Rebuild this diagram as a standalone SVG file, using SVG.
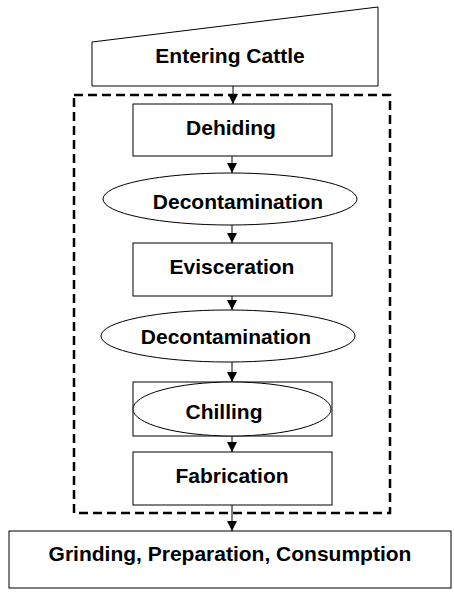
<svg xmlns="http://www.w3.org/2000/svg" width="454" height="592" viewBox="0 0 454 592">
<defs>
<style>
.s{fill:#fff;stroke:#000;stroke-width:1}
.t{font-family:"Liberation Sans",Arial,sans-serif;font-weight:bold;font-size:21px;fill:#000;text-anchor:middle}
.c{stroke:#000;stroke-width:1;fill:none}
</style>
<marker id="ah" markerWidth="10" markerHeight="10" refX="10" refY="5" orient="auto" markerUnits="userSpaceOnUse">
<path d="M0,0 L10,5 L0,10 Z" fill="#000"/>
</marker>
</defs>
<rect x="0" y="0" width="454" height="592" fill="#fff"/>
<g id="boundary">
<rect x="74" y="95" width="316" height="418" fill="none" stroke="#000" stroke-width="2.5" stroke-dasharray="9,5"/>
</g>
<g id="entering">
<path class="s" d="M92,42 L378,7 L378,86 L92,86 Z"/>
<text class="t" x="230" y="63">Entering Cattle</text>
</g>
<g id="dehiding">
<rect class="s" x="133" y="104" width="199" height="52"/>
<text class="t" x="231" y="135">Dehiding</text>
</g>
<g id="decon1">
<ellipse class="s" cx="230" cy="199" rx="127" ry="26"/>
<text class="t" x="238" y="209">Decontamination</text>
</g>
<g id="evisceration">
<rect class="s" x="133" y="243" width="199" height="53"/>
<text class="t" x="232" y="274">Evisceration</text>
</g>
<g id="decon2">
<ellipse class="s" cx="228" cy="336" rx="127" ry="26"/>
<text class="t" x="226" y="344">Decontamination</text>
</g>
<g id="chilling">
<rect class="s" x="133" y="382" width="199" height="54"/>
<ellipse class="s" cx="232" cy="409" rx="99" ry="27"/>
<text class="t" x="224" y="419">Chilling</text>
</g>
<g id="fabrication">
<rect class="s" x="133" y="452" width="199" height="53"/>
<text class="t" x="232" y="483">Fabrication</text>
</g>
<g id="final">
<rect class="s" x="9" y="531" width="442" height="57"/>
<text class="t" x="230" y="561">Grinding, Preparation, Consumption</text>
</g>
<g id="connectors">
<line class="c" x1="233" y1="86" x2="233" y2="104" marker-end="url(#ah)"/>
<line class="c" x1="232" y1="156" x2="232" y2="173" marker-end="url(#ah)"/>
<line class="c" x1="232" y1="225" x2="232" y2="243" marker-end="url(#ah)"/>
<line class="c" x1="232" y1="296" x2="232" y2="310" marker-end="url(#ah)"/>
<line class="c" x1="232" y1="362" x2="232" y2="382" marker-end="url(#ah)"/>
<line class="c" x1="232" y1="436" x2="232" y2="452" marker-end="url(#ah)"/>
<line class="c" x1="232" y1="505" x2="232" y2="531" marker-end="url(#ah)"/>
</g>
</svg>
